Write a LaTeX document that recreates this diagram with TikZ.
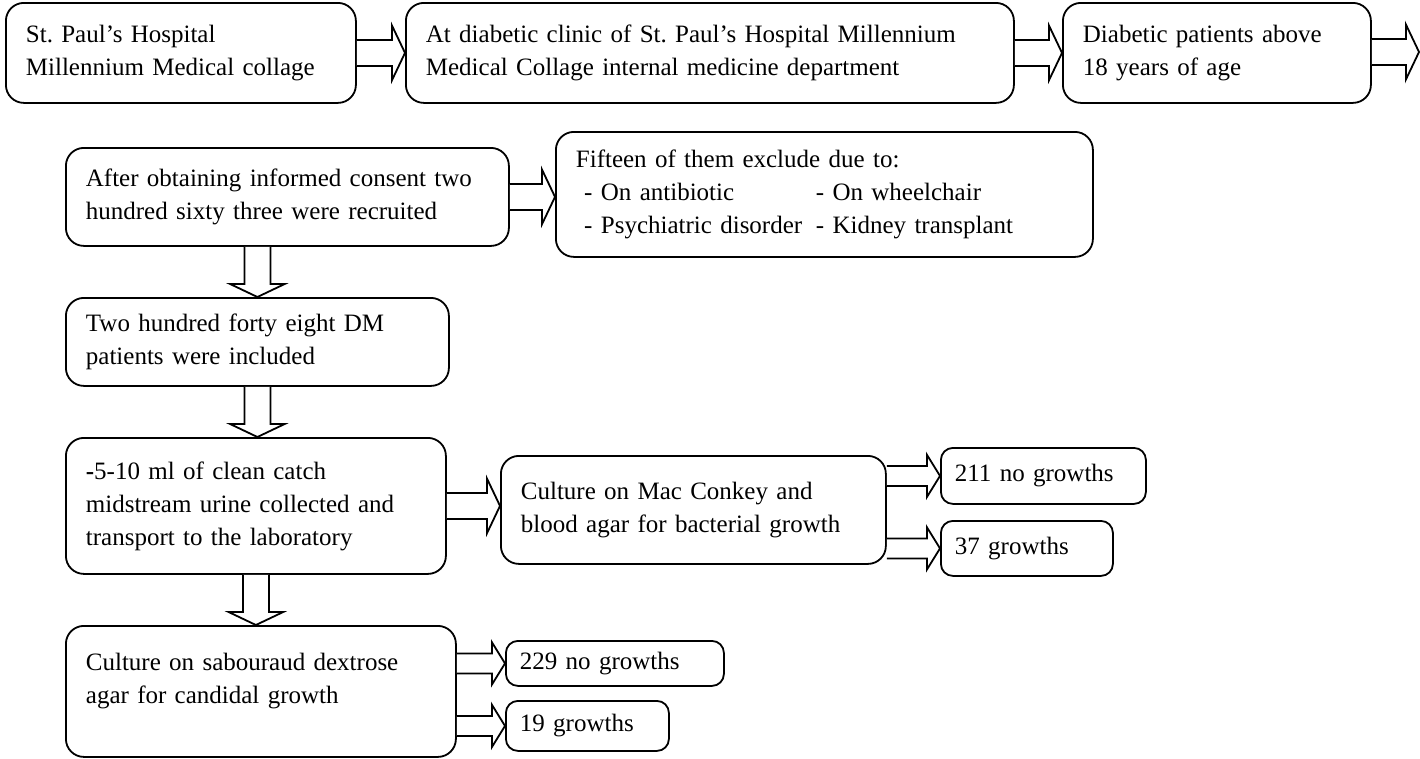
\documentclass[tikz,border=0pt]{standalone}
\usepackage{fontspec}
\setmainfont{Liberation Serif}
\frenchspacing
\usetikzlibrary{calc}
\tikzset{
  box/.style={draw, line width=1.8pt, rounded corners=18pt, anchor=north west,
    align=left, inner xsep=20pt, inner ysep=0pt, font=\fontsize{25}{33}\selectfont},
  smallbox/.style={box, inner xsep=14pt, rounded corners=12pt},
  blockarrow/.style={draw, line width=1.8pt, fill=white, line join=miter}
}
% hollow block arrows: #1 shaft half width, #2 start, #3 tip
\newcommand{\rightblock}[3][13pt]{%
  \draw[blockarrow] let \p1=#2, \p2=#3 in
    (\x1,\y2+#1) -- (\x2-13pt,\y2+#1) -- (\x2-13pt,\y2+2.1*#1) -- (\x2,\y2)
    -- (\x2-13pt,\y2-2.1*#1) -- (\x2-13pt,\y2-#1) -- (\x1,\y2-#1);}
\newcommand{\downblock}[3][13pt]{%
  \draw[blockarrow] let \p1=#2, \p2=#3 in
    (\x1-#1,\y1) -- (\x1-#1,\y2+13pt) -- (\x1-2.1*#1,\y2+13pt) -- (\x1,\y2)
    -- (\x1+2.1*#1,\y2+13pt) -- (\x1+#1,\y2+13pt) -- (\x1+#1,\y1);}

\begin{document}
\begin{tikzpicture}[x=1pt, y=-1pt]
\useasboundingbox (0,0) rectangle (1420,758);
%% top row
  \node[box, text width=310pt, minimum height=100pt] (hosp) at (5,2)
    {St. Paul’s Hospital\\Millennium Medical collage};
  \node[box, text width=568pt, minimum height=100pt] (clinic) at (405,2)
    {At diabetic clinic of St. Paul’s Hospital Millennium\\Medical Collage internal medicine department};
  \node[box, text width=268pt, minimum height=100pt] (adults) at (1062,2)
    {Diabetic patients above\\18 years of age};
  \coordinate (rim) at (1419,52);
  \rightblock{(hosp.east)}{(clinic.west)}
  \rightblock{(clinic.east)}{(adults.west)}
  \rightblock{(adults.east)}{(rim)}
%% recruitment
  \node[box, text width=403pt, minimum height=98pt] (consent) at (65,147)
    {After obtaining informed consent two\\hundred sixty three were recruited};
  \node[box, text width=497pt, minimum height=125pt] (exclude) at (555,131)
    {Fifteen of them exclude due to:\\
     \makebox[240pt][l]{\ - On antibiotic}- On wheelchair\\
     \makebox[240pt][l]{\ - Psychiatric disorder}- Kidney transplant};
  \node[box, text width=343pt, minimum height=88pt] (included) at (65,297)
    {Two hundred forty eight DM\\patients were included};
  \rightblock{(consent.east)}{(consent.east -| exclude.west)}
  \downblock{(consent.south -| included.north)}{(included.north)}
%% urine and bacterial culture
  \node[box, text width=340pt, minimum height=136pt] (urine) at (65,437)
    {\textbf{-}5-10 ml of clean catch\\midstream urine collected and\\transport to the laboratory};
  \node[box, text width=345pt, minimum height=108pt] (bact) at (500,455)
    {Culture on Mac Conkey and\\blood agar for bacterial growth};
  \node[smallbox, text width=177pt, minimum height=56pt] (bneg) at (940,447) {211 no growths};
  \node[smallbox, text width=144pt, minimum height=55pt] (bpos) at (940,520) {37 growths};
  \downblock{(included.south)}{(urine.north)}
  \rightblock{(urine.east)}{(urine.east -| bact.west)}
  \rightblock[10pt]{(bact.east |- bneg.west)}{(bneg.west)}
  \rightblock[10pt]{(bact.east |- bpos.west)}{(bpos.west)}
%% candida culture
  \node[box, text width=350pt, minimum height=131pt] (cand) at (65,625)
    {Culture on sabouraud dextrose\\agar for candidal growth\\[-7pt]\mbox{}};
  \node[smallbox, text width=190pt, minimum height=45pt] (cneg) at (505,640) {229 no growths};
  \node[smallbox, text width=135pt, minimum height=50pt] (cpos) at (505,700) {19 growths};
  \downblock{(urine.south)}{(cand.north -| urine.south)}
  \rightblock[10pt]{(cand.east |- cneg.west)}{(cneg.west)}
  \rightblock[10pt]{(cand.east |- cpos.west)}{(cpos.west)}
\end{tikzpicture}
\end{document}
